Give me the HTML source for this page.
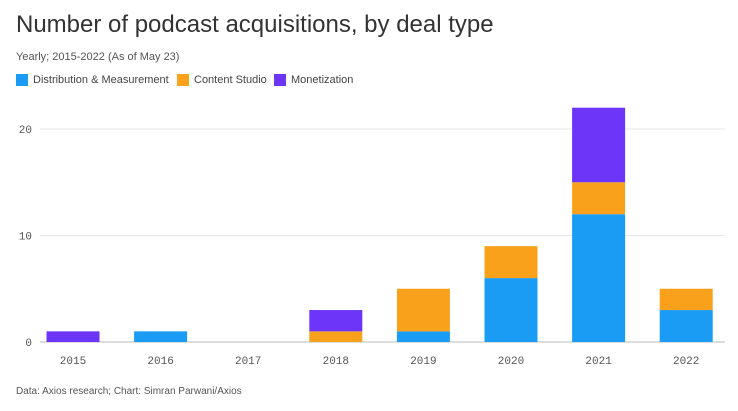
<!DOCTYPE html>
<html><head><meta charset="utf-8"><style>
body{margin:0;background:#fff;width:738px;height:411px;overflow:hidden;font-family:"Liberation Sans",sans-serif;}
.t{position:absolute;left:16px;top:11px;font-size:24px;color:#333;}
.s{position:absolute;left:16px;top:51px;font-size:11px;color:#555;}
.lg{position:absolute;top:74px;font-size:11px;color:#444;display:flex;align-items:center;}
.sw{width:12px;height:12px;margin-right:5px;display:inline-block}
.f{position:absolute;left:16px;top:386px;font-size:10px;color:#555;}
</style></head><body>
<div class="t">Number of podcast acquisitions, by deal type</div>
<div class="s">Yearly; 2015-2022 (As of May 23)</div>
<div class="lg" style="left:16px"><span class="sw" style="background:#1a9cf5"></span>Distribution &amp; Measurement</div>
<div class="lg" style="left:177px"><span class="sw" style="background:#f9a11b"></span>Content Studio</div>
<div class="lg" style="left:274px"><span class="sw" style="background:#6c35f7"></span>Monetization</div>
<svg id="c" width="738" height="411" style="position:absolute;left:0;top:0"></svg>
<div class="f">Data: Axios research; Chart: Simran Parwani/Axios</div>
<script>
const years=["2015","2016","2017","2018","2019","2020","2021","2022"];
const distribution=[0,1,0,0,1,6,12,3];
const contentStudio=[0,0,0,1,4,3,3,2];
const monetization=[1,0,0,2,0,0,7,0];
const yTicks=[0,10,20];
const svg=document.getElementById('c');const NS="http://www.w3.org/2000/svg";
const y=v=>342-v*10.65;
const x=i=>73+i*87.6;
function mk(t,a){const e=document.createElementNS(NS,t);for(const k in a)e.setAttribute(k,a[k]);svg.appendChild(e);return e;}
yTicks.forEach(v=>{
 const l=mk('line',{x1:40,x2:725,y1:y(v),y2:y(v),stroke:v?'#e6e6e6':'#bbb'});
 
 
 const t=mk('text',{x:32,y:y(v)+4,'text-anchor':'end','font-size':11,fill:'#555','font-family':'Liberation Mono, monospace'});
 t.textContent=v;
 
 
});
const series=[[distribution,'#1a9cf5','distribution'],[contentStudio,'#f9a11b','content-studio'],[monetization,'#6c35f7','monetization']];
years.forEach((yr,i)=>{
 let base=0;
 series.forEach(([arr,col,nm])=>{
  const v=arr[i];if(v>0){
   const r=mk('rect',{x:x(i)-26.5,width:53,y:y(base+v),height:y(base)-y(base+v),fill:col});
   
   
  }
  base+=v;
 });
 const t=mk('text',{x:x(i),y:364,'text-anchor':'middle','font-size':11,fill:'#555','font-family':'Liberation Mono, monospace'});
 t.textContent=yr;
 
 
});
</script>
</body></html>
